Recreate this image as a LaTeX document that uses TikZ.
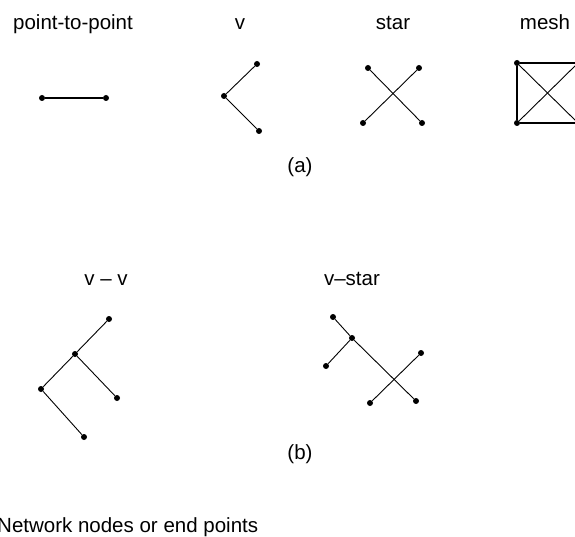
\documentclass[tikz,border=0pt]{standalone}
\usepackage{fontspec}
\setmainfont{Liberation Sans}

\begin{document}
\begin{tikzpicture}[
    x=1pt, y=-1pt,
    dot/.style={circle, fill=black, inner sep=0pt, minimum size=6pt},
    link/.style={line width=0.9pt},
    label/.style={anchor=base, inner sep=0pt, font=\fontsize{20.5}{24}\selectfont}
]
    \clip (0,0) rectangle (575,537);

    % (a) titles
    \node[label] (tp2p) at (73,30) {point-to-point};
    \node[label] (tv) at (240,30) {v};
    \node[label] (tstar) at (393,30) {star};
    \node[label] (tmesh) at (545,30) {mesh};

    % point-to-point
    \node[dot] (p1) at (42,98) {};
    \node[dot] (p2) at (106,98) {};
    \draw[line width=2pt] (p1) -- (p2);

    % v
    \node[dot] (v1) at (257,64) {};
    \node[dot] (v0) at (224,96) {};
    \node[dot] (v2) at (259,131) {};
    \draw[link] (v1) -- (v0) -- (v2);

    % star
    \node[dot] (s1) at (368,68) {};
    \node[dot] (s2) at (419,68) {};
    \node[dot] (s3) at (363,123) {};
    \node[dot] (s4) at (422,123) {};
    \draw[link] (s1) -- (s4);
    \draw[link] (s2) -- (s3);

    % mesh
    \node[dot] (m1) at (517,63) {};
    \node[dot] (m2) at (517,123) {};
    \node[dot] (m3) at (578,63) {};
    \node[dot] (m4) at (578,123) {};
    \draw[line width=1.3pt] (m1) -- (m2) -- (m4) -- (m3) -- (m1);
    \draw[link] (m1) -- (m4);
    \draw[link] (m2) -- (m3);

    \node[label] (capa) at (300,173) {(a)};

    % (b) titles
    \node[label] (tvv) at (106,285) {v -- v};
    \node[label] (tvstar) at (352,285) {v--star};

    % v - v
    \node[dot] (w1) at (109,319) {};
    \node[dot] (w0) at (75,354) {};
    \node[dot] (w2) at (117,398) {};
    \node[dot] (w3) at (41,389) {};
    \node[dot] (w4) at (84,437) {};
    \draw[link] (w1) -- (w0) -- (w3) -- (w4);
    \draw[link] (w0) -- (w2);

    % v - star
    \node[dot] (x1) at (333,317) {};
    \node[dot] (x0) at (352,338) {};
    \node[dot] (x2) at (326,366) {};
    \node[dot] (x3) at (421,353) {};
    \node[dot] (x4) at (370,403) {};
    \node[dot] (x5) at (416,401) {};
    \draw[link] (x1) -- (x0) -- (x5);
    \draw[link] (x0) -- (x2);
    \draw[link] (x3) -- (x4);

    \node[label] (capb) at (300,459) {(b)};

    \node[label, anchor=base west] (legend) at (-3,532) {Network nodes or end points};
\end{tikzpicture}
\end{document}
